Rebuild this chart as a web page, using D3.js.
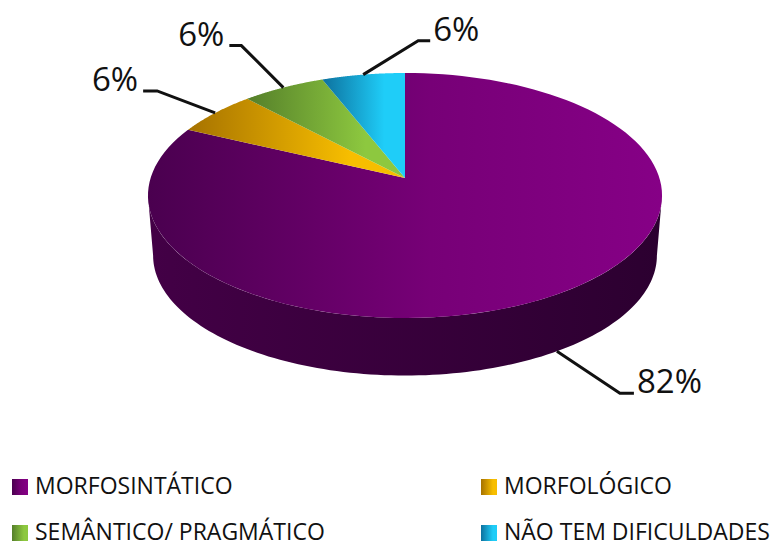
<!DOCTYPE html>
<html>
<head>
<meta charset="utf-8">
<script src="https://cdnjs.cloudflare.com/ajax/libs/d3/7.8.5/d3.min.js"></script>
<style>
  html, body { margin: 0; padding: 0; background: #fff; }
  svg { display: block; }
  text { font-family: "Open Sans", sans-serif; fill: #111; }
</style>
</head>
<body>
<svg id="chart"></svg>
<script>
var w = 773;
var h = 543;

// values
var categories = ["MORFOSINTÁTICO", "MORFOLÓGICO", "SEMÂNTICO/ PRAGMÁTICO", "NÃO TEM DIFICULDADES"];
var values = [82, 6, 6, 6];
var lightColors = ["#860086", "#f7be00", "#8dc83f", "#1fcdf8"];
var darkColors = ["#4a004f", "#a67200", "#557f2a", "#0d719e"];

// pie geometry (perspective tilted disc)
var cx = 405, cy = 178;
var rx = 254.4, ry = 120, persp = 1 / 7;
var depth = 60, bottomScale = 0.98;

// leader line offsets from the slice edge: [elbow dx, elbow dy, end dx]
var leaders = [[63, 42, 14], [-58, -22, -14], [-42, -42, -12], [55, -34, 12]];
var labelAnchor = ["start", "end", "end", "start"];

var svg = d3.select("#chart").attr("width", w).attr("height", h);

var pie = d3.pie().sort(null).value(function(d) { return d; });
var slices = pie(values);

// project an angle on the disc (0 = top, clockwise) on to the screen
function project(a) {
  var u = Math.sin(a), v = -Math.cos(a);
  var k = 1 - persp * v;
  return [cx + rx * u / k, cy + ry * v / k];
}

// same thing for the bottom edge of the disc, which is a bit smaller
var ellipseCy = cy + 17.5;
function projectBottom(a) {
  var p = project(a);
  return [cx + (p[0] - cx) * bottomScale, ellipseCy + depth + (p[1] - ellipseCy) * bottomScale];
}

function sampleAngles(a0, a1) {
  return d3.range(0, 121).map(function(i) { return a0 + (a1 - a0) * i / 120; });
}

var line = d3.line();
var defs = svg.append("defs");

categories.forEach(function(c, i) {
  var g = defs.append("linearGradient").attr("id", "grad" + i)
    .attr("x1", "0%").attr("x2", "100%").attr("y1", "0%").attr("y2", "0%");
  g.append("stop").attr("offset", "0%").attr("stop-color", darkColors[i]);
  g.append("stop").attr("offset", i == 0 ? "55%" : "75%").attr("stop-color", i == 0 ? "#770077" : lightColors[i]);
  g.append("stop").attr("offset", "100%").attr("stop-color", lightColors[i]);
});

var sideGrad = defs.append("linearGradient").attr("id", "side")
  .attr("x1", "0%").attr("x2", "100%").attr("y1", "0%").attr("y2", "0%");
sideGrad.append("stop").attr("offset", "0%").attr("stop-color", "#430046");
sideGrad.append("stop").attr("offset", "100%").attr("stop-color", "#2c0030");

// side wall: only the near half of the disc shows
var a0 = Math.acos(-persp), a1 = 2 * Math.PI - a0;
var sideAngles = sampleAngles(a0, a1);
var sidePts = sideAngles.map(project).concat(sideAngles.slice().reverse().map(projectBottom));
svg.append("path")
  .attr("d", line(sidePts) + "Z")
  .attr("fill", "url(#side)");

// top face slices
svg.selectAll("path.slice")
  .data(slices)
  .enter()
  .append("path")
  .attr("class", "slice")
  .attr("d", function(d) {
    var pts = sampleAngles(d.startAngle, d.endAngle).map(project);
    return line([[cx, cy]].concat(pts)) + "Z";
  })
  .attr("fill", function(d) { return "url(#grad" + d.index + ")"; });

// leader lines and percent labels
var labels = svg.selectAll("g.label")
  .data(slices)
  .enter()
  .append("g")
  .attr("class", "label");

function anchorOf(d) {
  var mid = (d.startAngle + d.endAngle) / 2;
  // the big slice is labelled from its side wall
  return d.index == 0 ? projectBottom(mid) : project(mid);
}

labels.append("polyline")
  .attr("points", function(d) {
    var p = anchorOf(d), o = leaders[d.index];
    return [p, [p[0] + o[0], p[1] + o[1]], [p[0] + o[0] + o[2], p[1] + o[1]]].join(" ");
  })
  .attr("fill", "none")
  .attr("stroke", "#111")
  .attr("stroke-width", 3);

labels.append("text")
  .attr("x", function(d) {
    var p = anchorOf(d), o = leaders[d.index];
    return p[0] + o[0] + o[2] + (o[2] > 0 ? 3 : -5);
  })
  .attr("y", function(d) {
    var p = anchorOf(d), o = leaders[d.index];
    return p[1] + o[1];
  })
  .attr("text-anchor", function(d) { return labelAnchor[d.index]; })
  .attr("font-size", 33)
  .text(function(d) { return d.value + "%"; });

// legend, two by two
var legendX = d3.scaleBand().domain([0, 1]).range([12, 950]);
var legendY = d3.scaleBand().domain([0, 1]).range([479, 571]);

var legend = svg.selectAll("g.legend")
  .data(categories)
  .enter()
  .append("g")
  .attr("class", "legend")
  .attr("transform", function(d, i) {
    return "translate(" + (i % 2 ? 481 : legendX(0)) + "," + legendY(Math.floor(i / 2)) + ")";
  });

legend.append("rect")
  .attr("width", 16)
  .attr("height", 16)
  .attr("fill", function(d, i) { return "url(#grad" + i + ")"; });

legend.append("text")
  .attr("x", 23)
  .attr("y", 15)
  .attr("font-size", 23)
  .text(function(d) { return d; });
</script>
</body>
</html>
